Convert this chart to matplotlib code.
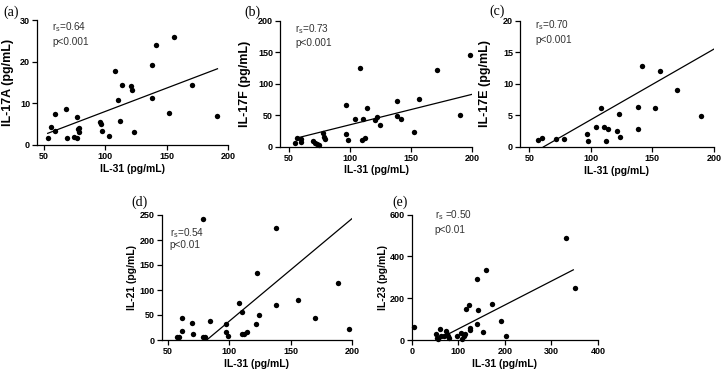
import matplotlib.pyplot as plt

plt.rcParams['font.family'] = ['Liberation Sans', 'DejaVu Sans']
plt.rcParams['mathtext.fontset'] = 'custom'
plt.rcParams['mathtext.rm'] = 'Liberation Sans'

# ---- data ----
a_x = [53, 55.8, 59, 59, 68, 68.7, 74.2, 77, 77, 77.7, 78.3, 78.3, 95.6, 96, 97.5, 103.3,
       107.4, 109.9, 111.5, 113.5, 120.6, 122, 123.6, 138.2, 138.2, 140.9, 151.9, 156,
       170.6, 190.4]
a_y = [1.6, 4.4, 7.5, 3.4, 8.7, 1.6, 1.9, 6.7, 1.6, 3.8, 3.2, 4.0, 5.5, 5.0, 3.4, 2.2,
       17.7, 10.7, 5.8, 14.5, 14.1, 13.3, 3.2, 19.1, 11.3, 23.9, 7.8, 25.8, 14.3, 7.0]
a_fit_x = [53, 191.2]
a_fit_y = [2.8, 18.3]

b_x = [55.2, 56.6, 59.4, 59.6, 69.3, 71.2, 73.1, 74.8, 78.1, 78.6, 79.5, 96.8, 96.8, 98.2,
       104.2, 107.8, 109.7, 110.5, 112.5, 113.9, 120.7, 122.1, 124.3, 138.1, 138.1, 141.4,
       152.4, 156.5, 171.1, 190.4, 198.6]
b_y = [6.3, 14.3, 11.6, 7.9, 8.5, 6.3, 4.2, 2.1, 21.2, 15.9, 11.6, 65.6, 19.6, 10.1,
       43.4, 124.3, 10.6, 44.4, 13.8, 60.8, 42.3, 46.6, 33.9, 72.5, 48.1, 43.9,
       23.3, 75.1, 121.2, 50.3, 146.0]
b_fit_x = [57.4, 200]
b_fit_y = [14.3, 83.1]

c_x = [57.3, 60.1, 71.7, 78.3, 96.7, 98.1, 103.8, 108.2, 110.3, 112.5, 113.9, 121.2, 122.6,
       123.9, 138.0, 138.0, 141.6, 151.9, 156.5, 170.1, 189.1]
c_y = [1.1, 1.5, 1.2, 1.3, 2.0, 1.0, 3.2, 6.2, 3.1, 1.0, 2.8, 2.6, 5.2,
       1.6, 2.8, 6.4, 12.8, 6.2, 12.1, 9.0, 4.9]
c_fit_x = [61.4, 200.8]
c_fit_y = [0, 15.6]

d_x = [57.3, 59.2, 61.4, 61.4, 70, 70.9, 79, 79, 80.3, 84.4, 97.1, 97.4, 98.7, 108.2,
       110.7, 110.1, 112.3, 114.2, 121.5, 122.8, 124.2, 138, 138, 156.2, 169.7, 188.6, 197.3]
d_y = [5.3, 5.3, 43.3, 18.7, 34.7, 12, 242, 5.3, 5.3, 38.7, 32, 15.3, 8.7, 73.3,
       56, 12, 12, 15.3, 32, 133.3, 50, 223.3, 70.7, 80, 44, 114, 22.7]
d_fit_x = [81.7, 200]
d_fit_y = [0, 243.3]

e_x = [5.8, 53, 54.5, 56, 60, 63, 69, 72.7, 75, 77.8, 79.3, 98, 105.5, 107.6, 111.3, 115,
       115.6, 123.6, 124.4, 125.8, 139.6, 139.6, 141.8, 153.5, 158.5, 172.4, 192.7, 201.5,
       331.6, 349.8]
e_y = [64, 27, 11, 5, 51, 21, 17, 41, 30, 21, 8, 21, 33, 5, 21, 30,
       148, 167, 57, 49, 294, 76, 145, 38, 334, 173, 89, 17, 490, 247]
e_fit_x = [69, 347]
e_fit_y = [17.5, 336]

panels = [
    # tag, x, y, fit_x, fit_y, ylabel, r text, p text, xlim, xticks, yticks
    ('(a)', a_x, a_y, a_fit_x, a_fit_y, 'IL-17A (pg/mL)', '=0.64', 'p<0.001',
     (44.3, 200), [50, 100, 150, 200], [0, 10, 20, 30]),
    ('(b)', b_x, b_y, b_fit_x, b_fit_y, 'IL-17F (pg/mL)', '=0.73', 'p<0.001',
     (42.5, 200), [50, 100, 150, 200], [0, 50, 100, 150, 200]),
    ('(c)', c_x, c_y, c_fit_x, c_fit_y, 'IL-17E (pg/mL)', '=0.70', 'p<0.001',
     (42.5, 200), [50, 100, 150, 200], [0, 5, 10, 15, 20]),
    ('(d)', d_x, d_y, d_fit_x, d_fit_y, 'IL-21 (pg/mL)', '=0.54', 'p<0.01',
     (45.1, 200), [50, 100, 150, 200], [0, 50, 100, 150, 200, 250]),
    ('(e)', e_x, e_y, e_fit_x, e_fit_y, 'IL-23 (pg/mL)', ' =0.50', 'p<0.01',
     (0, 400), [0, 100, 200, 300, 400], [0, 200, 400, 600]),
]

# layout in pixels: axes box (left, right, top, bottom), tag centre,
# ylabel offset, ylabel size, annotation (dx, dy1, dy2)
boxes = [(37, 228.3, 20, 145), (280, 472, 20.7, 146.7), (520, 714, 20.7, 147),
         (161.7, 352.3, 215, 340), (411.7, 598, 214.7, 340)]
tag_pos = [(11.5, 12), (252.5, 12), (497, 11.5), (140, 202.5), (400, 202.5)]
ylab_off = [-23, -29, -29, -25, -24]
ylab_size = [9, 9, 9, 7.5, 7.5]
note_pos = [(15, 7, 22), (15, 8.6, 22), (15, 4.3, 19.3), (8, 18, 30.5), (23, 0, 15)]

W, H = 726, 374
fig = plt.figure(figsize=(W / 100, H / 100), dpi=100)

for i, (tag, xs, ys, fx, fy, ylab, rtxt, ptxt, xlim, xt, yt) in enumerate(panels):
    l, r, t, b = boxes[i]
    w, h = r - l, b - t
    ax = fig.add_axes([l / W, 1 - b / H, w / W, h / H])
    ax.scatter(xs, ys, s=15, color='black', linewidths=0, zorder=3, clip_on=False)
    ax.plot(fx, fy, color='black', lw=0.9)
    ax.set_xlim(*xlim)
    ax.set_ylim(yt[0], yt[-1])
    ax.set_xticks(xt)
    ax.set_yticks(yt)
    for side in ('top', 'right'):
        ax.spines[side].set_visible(False)
    for side in ('left', 'bottom'):
        ax.spines[side].set_linewidth(0.9)
    ax.tick_params(direction='out', length=3.5, width=0.9, pad=1.5,
                   labelsize=6.5, colors='black')
    for lab in ax.get_xticklabels() + ax.get_yticklabels():
        lab.set_fontweight('bold')
    ax.set_xlabel('IL-31 (pg/mL)', fontsize=7.5, fontweight='bold', labelpad=2)
    ax.set_ylabel(ylab, fontsize=ylab_size[i], fontweight='bold')
    ax.yaxis.set_label_coords(ylab_off[i] / w, 0.5)

    dx, dy1, dy2 = note_pos[i]
    ax.text(dx / w, 1 - dy1 / h, r'r$_\mathregular{s}$' + rtxt,
            transform=ax.transAxes, fontsize=7.2, color='#333333', va='center')
    ax.text(dx / w, 1 - dy2 / h, ptxt,
            transform=ax.transAxes, fontsize=7.2, color='#333333', va='center')

    tx, ty = tag_pos[i]
    fig.text(tx / W, 1 - ty / H, tag, family='Liberation Serif',
             fontsize=10, ha='center', va='center')

fig.savefig('out.png', dpi=100)
